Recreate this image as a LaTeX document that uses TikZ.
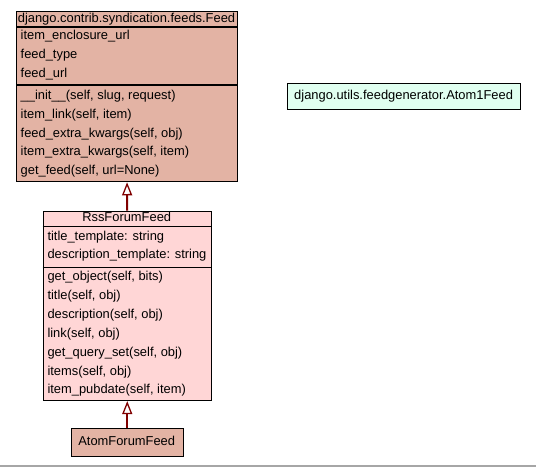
\documentclass[tikz,border=0pt]{standalone}
\usepackage{fontspec}
\setmainfont{Liberation Sans}
\usetikzlibrary{arrows.meta}
\definecolor{feedfill}{HTML}{E3B3A4}
\definecolor{rssfill}{HTML}{FFD6D6}
\definecolor{atomfill}{HTML}{E0FFF0}
\definecolor{inhcol}{HTML}{800000}
\begin{document}
\begin{tikzpicture}[x=1pt,y=-1pt,
  box/.style={draw=black, line width=1.1pt, inner sep=0pt, anchor=north west},
  txt/.style={anchor=base west, inner sep=0pt, font=\fontsize{12.9}{15}\selectfont},
  ctxt/.style={anchor=base, inner sep=0pt, font=\fontsize{12.9}{15}\selectfont},
  divider/.style={draw=black, line width=1.1pt},
  inh/.style={draw=inhcol, line width=2pt, -{Triangle[open, length=13pt, width=10pt, line width=1.3pt, fill=white]}}]
\useasboundingbox (0,0) rectangle (536,467);
\draw[gray!70, line width=1.2pt] (0,466) -- (536,466);
% Feed class
\node[box, fill=feedfill, minimum width=221pt, minimum height=170.5pt] (feed) at (16,10.7) {};
\draw[divider] (16,27) -- (237,27);
\draw[divider] (16,85) -- (237,85);
\node[ctxt] (feedh) at (126.5,22) {django.contrib.syndication.feeds.Feed};
\node[txt] (fa1) at (20.5,39.5) {item\_enclosure\_url};
\node[txt] (fa2) at (20.5,58.5) {feed\_type};
\node[txt] (fa3) at (20.5,77.5) {feed\_url};
\node[txt] (fm1) at (20.5,99.5) {\_\_init\_\_(self, slug, request)};
\node[txt] (fm2) at (20.5,118.3) {item\_link(self, item)};
\node[txt] (fm3) at (20.5,137.1) {feed\_extra\_kwargs(self, obj)};
\node[txt] (fm4) at (20.5,155.9) {item\_extra\_kwargs(self, item)};
\node[txt] (fm5) at (20.5,174.7) {get\_feed(self, url=None)};
% RssForumFeed class
\node[box, fill=rssfill, minimum width=168pt, minimum height=189.3pt] (rss) at (42.7,210.7) {};
\draw[divider] (42.7,226.7) -- (210.7,226.7);
\draw[divider] (42.7,267.3) -- (210.7,267.3);
\node[ctxt] (rssh) at (126.7,221.5) {RssForumFeed};
\node[txt] (ra1) at (47.3,240.5) {title\_template: string};
\node[txt] (ra2) at (47.3,258.5) {description\_template: string};
\node[txt] (rm1) at (47.3,280.5) {get\_object(self, bits)};
\node[txt] (rm2) at (47.3,299.4) {title(self, obj)};
\node[txt] (rm3) at (47.3,318.3) {description(self, obj)};
\node[txt] (rm4) at (47.3,337.2) {link(self, obj)};
\node[txt] (rm5) at (47.3,356.1) {get\_query\_set(self, obj)};
\node[txt] (rm6) at (47.3,375.0) {items(self, obj)};
\node[txt] (rm7) at (47.3,393.9) {item\_pubdate(self, item)};
% AtomForumFeed class
\node[box, fill=feedfill, minimum width=112pt, minimum height=28pt] (atomf) at (70.7,428) {};
\node[ctxt] (atomfh) at (126.7,445) {AtomForumFeed};
% Atom1Feed class
\node[box, fill=atomfill, minimum width=232.7pt, minimum height=26.6pt] (atom1) at (287.3,82.7) {};
\node[ctxt] (atom1h) at (403.6,99.5) {django.utils.feedgenerator.Atom1Feed};
% inheritance
\draw[inh] (rss.north) -- (feed.south);
\draw[inh] (atomf.north) -- (rss.south);
\end{tikzpicture}
\end{document}
